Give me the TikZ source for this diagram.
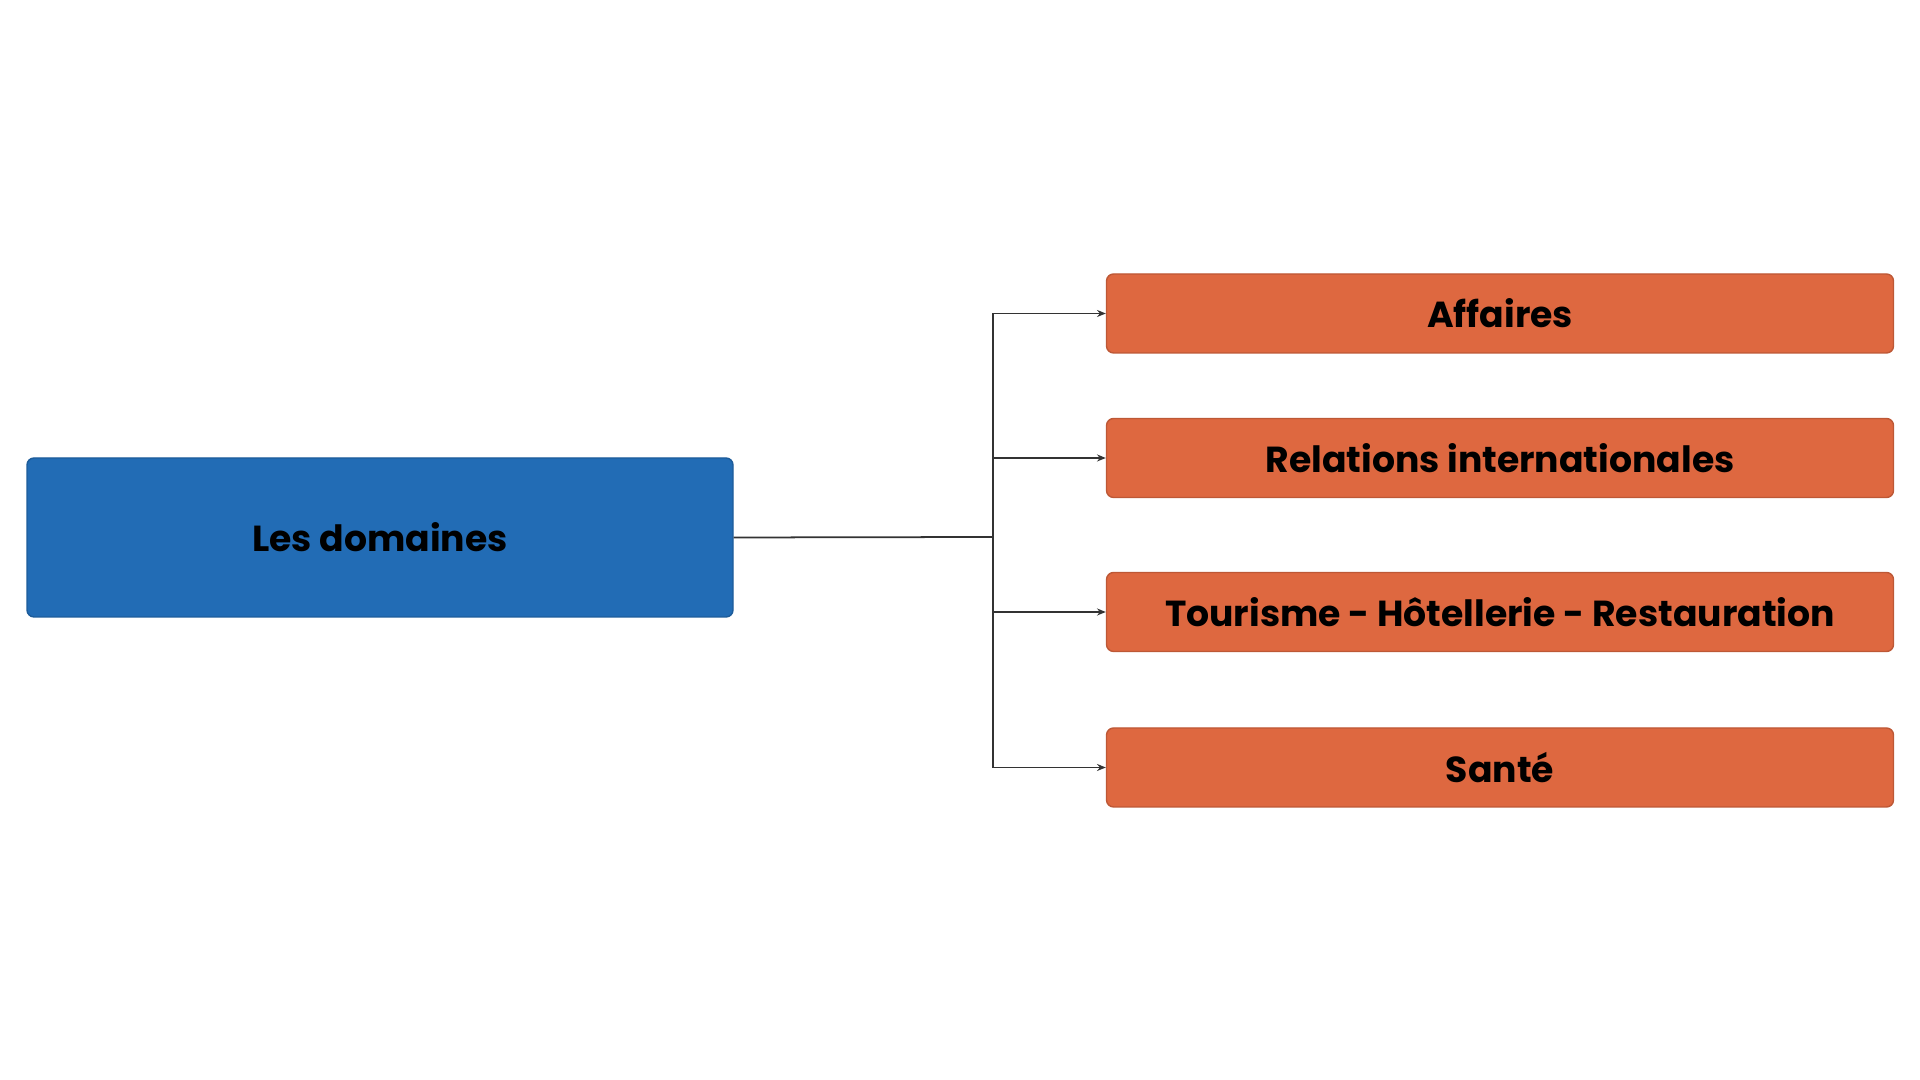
\documentclass[tikz,border=0pt]{standalone}
\usepackage{fontspec}
\setmainfont{Poppins}
\usetikzlibrary{arrows.meta}
\definecolor{rootblue}{HTML}{226CB5}
\definecolor{leaforange}{HTML}{DE6840}
\begin{document}
\begin{tikzpicture}[
  rootbox/.style={draw=rootblue!85!black, fill=rootblue, rounded corners=2pt,
    minimum width=7.06cm, minimum height=1.59cm, font=\bfseries\fontsize{10.3pt}{12pt}\selectfont},
  leafbox/.style={draw=leaforange!85!black, fill=leaforange, rounded corners=2pt,
    minimum width=7.87cm, minimum height=0.79cm, font=\bfseries\fontsize{10.3pt}{12pt}\selectfont},
  link/.style={draw=black!80, line width=0.5pt},
]
\useasboundingbox (0, 0) rectangle (19.2, 10.8);
\def\busx{9.93}

\node (root) [rootbox] at (3.80, 5.425) {Les domaines};

\node (aff) [leafbox] at (15.0, 7.665) {Affaires};
\node (rel) [leafbox] at (15.0, 6.22) {Relations internationales};
\node (tour) [leafbox] at (15.0, 4.68) {Tourisme - Hôtellerie - Restauration};
\node (sante) [leafbox] at (15.0, 3.125) {Santé};

\coordinate (bus) at (\busx, 5.43);
\draw [link] (root.east) -- (bus);

\foreach \leaf in {aff, rel, tour, sante}
  \draw [link, arrows={-{Stealth[length=2.5pt, width=2pt]}}] (bus) |- (\leaf.west);
\end{tikzpicture}
\end{document}
